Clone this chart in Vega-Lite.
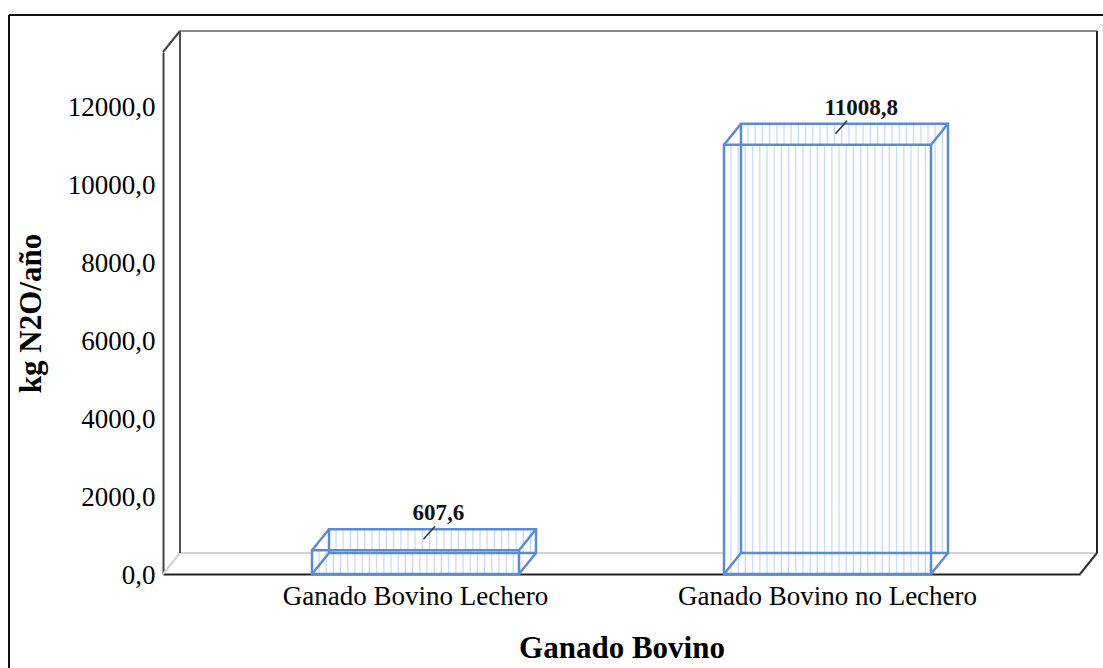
{
  "$schema": "https://vega.github.io/schema/vega-lite/v6.json",
  "width": 917,
  "height": 522,
  "autosize": "none",
  "padding": {"left": 163, "top": 52, "right": 23, "bottom": 94},
  "background": "white",
  "data": {"values": [
    {"tipo": "Ganado Bovino Lechero", "valor": 607.6},
    {"tipo": "Ganado Bovino no Lechero", "valor": 11008.8}
  ]},
  "resolve": {"scale": {"x": "independent", "y": "independent"}},
  "layer": [
    {
      "data": {"values": [{"marco": "muro"}]},
      "layer": [
        {
          "mark": {"type": "rule", "color": "#111111", "strokeWidth": 2, "xOffset": -154, "yOffset": 100, "y2Offset": -37},
          "encoding": {
            "x": {"datum": 0, "type": "quantitative", "scale": {"domain": [0, 1]}, "axis": null},
            "y": {"datum": 0, "type": "quantitative", "scale": {"domain": [0, 1]}, "axis": null},
            "y2": {"datum": 1}
          }
        },
        {
          "mark": {"type": "rule", "color": "#111111", "strokeWidth": 2, "xOffset": -154, "x2Offset": 40, "yOffset": -37},
          "encoding": {
            "x": {"datum": 0, "type": "quantitative", "scale": {"domain": [0, 1]}, "axis": null},
            "x2": {"datum": 1},
            "y": {"datum": 1, "type": "quantitative", "scale": {"domain": [0, 1]}, "axis": null}
          }
        },
        {
          "mark": {"type": "rule", "color": "#d2d2d2", "strokeWidth": 2, "xOffset": 17, "x2Offset": 17, "yOffset": -21},
          "encoding": {
            "x": {"datum": 0, "type": "quantitative", "scale": {"domain": [0, 1]}, "axis": null},
            "x2": {"datum": 1},
            "y": {"datum": 0, "type": "quantitative", "scale": {"domain": [0, 1]}, "axis": null}
          }
        },
        {
          "mark": {"type": "rule", "color": "#d2d2d2", "strokeWidth": 2, "x2Offset": 17, "y2Offset": -21},
          "encoding": {
            "x": {"datum": 0, "type": "quantitative", "scale": {"domain": [0, 1]}, "axis": null},
            "x2": {"datum": 0},
            "y": {"datum": 0, "type": "quantitative", "scale": {"domain": [0, 1]}, "axis": null},
            "y2": {"datum": 0}
          }
        },
        {
          "mark": {"type": "rule", "color": "#8c8c8c", "strokeWidth": 2, "xOffset": 17, "x2Offset": 17, "yOffset": -21},
          "encoding": {
            "x": {"datum": 0, "type": "quantitative", "scale": {"domain": [0, 1]}, "axis": null},
            "x2": {"datum": 1},
            "y": {"datum": 1, "type": "quantitative", "scale": {"domain": [0, 1]}, "axis": null}
          }
        },
        {
          "mark": {"type": "rule", "color": "#505050", "strokeWidth": 2, "xOffset": 17, "yOffset": -21, "y2Offset": -21},
          "encoding": {
            "x": {"datum": 0, "type": "quantitative", "scale": {"domain": [0, 1]}, "axis": null},
            "y": {"datum": 0, "type": "quantitative", "scale": {"domain": [0, 1]}, "axis": null},
            "y2": {"datum": 1}
          }
        },
        {
          "mark": {"type": "rule", "color": "#222222", "strokeWidth": 2, "xOffset": 17, "yOffset": -21, "y2Offset": -21},
          "encoding": {
            "x": {"datum": 1, "type": "quantitative", "scale": {"domain": [0, 1]}, "axis": null},
            "y": {"datum": 0, "type": "quantitative", "scale": {"domain": [0, 1]}, "axis": null},
            "y2": {"datum": 1}
          }
        },
        {
          "mark": {"type": "rule", "color": "#444444", "strokeWidth": 2, "x2Offset": 17, "y2Offset": -21},
          "encoding": {
            "x": {"datum": 0, "type": "quantitative", "scale": {"domain": [0, 1]}, "axis": null},
            "x2": {"datum": 0},
            "y": {"datum": 1, "type": "quantitative", "scale": {"domain": [0, 1]}, "axis": null},
            "y2": {"datum": 1}
          }
        },
        {
          "mark": {"type": "rule", "color": "#333333", "strokeWidth": 2, "x2Offset": 17, "y2Offset": -21},
          "encoding": {
            "x": {"datum": 1, "type": "quantitative", "scale": {"domain": [0, 1]}, "axis": null},
            "x2": {"datum": 1},
            "y": {"datum": 0, "type": "quantitative", "scale": {"domain": [0, 1]}, "axis": null},
            "y2": {"datum": 0}
          }
        }
      ]
    },
    {
      "encoding": {
        "x": {
          "field": "tipo", "type": "nominal", "sort": null,
          "scale": {"paddingInner": 0.4976, "paddingOuter": 0.3617},
          "axis": {
            "orient": "bottom", "title": "Ganado Bovino", "labelAngle": 0, "ticks": false, "labelLimit": 0,
            "domainColor": "#222222", "domainWidth": 2,
            "labelFont": "Liberation Serif", "labelFontSize": 27, "labelColor": "#000000", "labelPadding": 9,
            "titleFont": "Liberation Serif", "titleFontSize": 31, "titleFontWeight": "bold", "titleColor": "#000000", "titlePadding": 24
          }
        },
        "y": {
          "field": "valor", "type": "quantitative",
          "scale": {"domain": [0, 13385], "nice": false},
          "axis": {
            "title": "kg N2O/año", "values": [0, 2000, 4000, 6000, 8000, 10000, 12000], "format": ".1f",
            "grid": false, "ticks": false, "domainColor": "#444444", "domainWidth": 2,
            "labelFont": "Liberation Serif", "labelFontSize": 27, "labelColor": "#000000", "labelPadding": 8, "labelOffset": 1,
            "titleFont": "Liberation Serif", "titleFontSize": 31, "titleFontWeight": "bold", "titleColor": "#000000", "titlePadding": 20
          }
        }
      },
      "layer": [
        {
          "mark": {
            "type": "bar", "strokeWidth": 0, "xOffset": 17, "x2Offset": 17, "yOffset": -21, "y2Offset": -21,
            "fill": {"gradient": "linear", "x1": 0, "y1": 0, "x2": 1, "y2": 0, "stops": [
              {"offset": 0, "color": "#ffffff"},
              {"offset": 0.0275, "color": "#ffffff"}, {"offset": 0.0338, "color": "#c6daf5"}, {"offset": 0.0401, "color": "#ffffff"},
              {"offset": 0.0623, "color": "#ffffff"}, {"offset": 0.0686, "color": "#c6daf5"}, {"offset": 0.0749, "color": "#ffffff"},
              {"offset": 0.0971, "color": "#ffffff"}, {"offset": 0.1034, "color": "#c6daf5"}, {"offset": 0.1097, "color": "#ffffff"},
              {"offset": 0.1319, "color": "#ffffff"}, {"offset": 0.1382, "color": "#c6daf5"}, {"offset": 0.1445, "color": "#ffffff"},
              {"offset": 0.1666, "color": "#ffffff"}, {"offset": 0.1729, "color": "#c6daf5"}, {"offset": 0.1792, "color": "#ffffff"},
              {"offset": 0.2014, "color": "#ffffff"}, {"offset": 0.2077, "color": "#c6daf5"}, {"offset": 0.2140, "color": "#ffffff"},
              {"offset": 0.2362, "color": "#ffffff"}, {"offset": 0.2425, "color": "#c6daf5"}, {"offset": 0.2488, "color": "#ffffff"},
              {"offset": 0.2710, "color": "#ffffff"}, {"offset": 0.2773, "color": "#c6daf5"}, {"offset": 0.2836, "color": "#ffffff"},
              {"offset": 0.3058, "color": "#ffffff"}, {"offset": 0.3121, "color": "#c6daf5"}, {"offset": 0.3184, "color": "#ffffff"},
              {"offset": 0.3406, "color": "#ffffff"}, {"offset": 0.3469, "color": "#c6daf5"}, {"offset": 0.3532, "color": "#ffffff"},
              {"offset": 0.3753, "color": "#ffffff"}, {"offset": 0.3816, "color": "#c6daf5"}, {"offset": 0.3879, "color": "#ffffff"},
              {"offset": 0.4101, "color": "#ffffff"}, {"offset": 0.4164, "color": "#c6daf5"}, {"offset": 0.4227, "color": "#ffffff"},
              {"offset": 0.4449, "color": "#ffffff"}, {"offset": 0.4512, "color": "#c6daf5"}, {"offset": 0.4575, "color": "#ffffff"},
              {"offset": 0.4797, "color": "#ffffff"}, {"offset": 0.4860, "color": "#c6daf5"}, {"offset": 0.4923, "color": "#ffffff"},
              {"offset": 0.5145, "color": "#ffffff"}, {"offset": 0.5208, "color": "#c6daf5"}, {"offset": 0.5271, "color": "#ffffff"},
              {"offset": 0.5493, "color": "#ffffff"}, {"offset": 0.5556, "color": "#c6daf5"}, {"offset": 0.5619, "color": "#ffffff"},
              {"offset": 0.5840, "color": "#ffffff"}, {"offset": 0.5903, "color": "#c6daf5"}, {"offset": 0.5966, "color": "#ffffff"},
              {"offset": 0.6188, "color": "#ffffff"}, {"offset": 0.6251, "color": "#c6daf5"}, {"offset": 0.6314, "color": "#ffffff"},
              {"offset": 0.6536, "color": "#ffffff"}, {"offset": 0.6599, "color": "#c6daf5"}, {"offset": 0.6662, "color": "#ffffff"},
              {"offset": 0.6884, "color": "#ffffff"}, {"offset": 0.6947, "color": "#c6daf5"}, {"offset": 0.7010, "color": "#ffffff"},
              {"offset": 0.7232, "color": "#ffffff"}, {"offset": 0.7295, "color": "#c6daf5"}, {"offset": 0.7358, "color": "#ffffff"},
              {"offset": 0.7580, "color": "#ffffff"}, {"offset": 0.7643, "color": "#c6daf5"}, {"offset": 0.7706, "color": "#ffffff"},
              {"offset": 0.7927, "color": "#ffffff"}, {"offset": 0.7990, "color": "#c6daf5"}, {"offset": 0.8053, "color": "#ffffff"},
              {"offset": 0.8275, "color": "#ffffff"}, {"offset": 0.8338, "color": "#c6daf5"}, {"offset": 0.8401, "color": "#ffffff"},
              {"offset": 0.8623, "color": "#ffffff"}, {"offset": 0.8686, "color": "#c6daf5"}, {"offset": 0.8749, "color": "#ffffff"},
              {"offset": 0.8971, "color": "#ffffff"}, {"offset": 0.9034, "color": "#c6daf5"}, {"offset": 0.9097, "color": "#ffffff"},
              {"offset": 0.9319, "color": "#ffffff"}, {"offset": 0.9382, "color": "#c6daf5"}, {"offset": 0.9445, "color": "#ffffff"},
              {"offset": 0.9666, "color": "#ffffff"}, {"offset": 0.9729, "color": "#c6daf5"}, {"offset": 0.9792, "color": "#ffffff"},
              {"offset": 1, "color": "#ffffff"}
            ]}
          }
        },
        {
          "mark": {
            "type": "bar", "strokeWidth": 0,
            "fill": {"gradient": "linear", "x1": 0, "y1": 0, "x2": 1, "y2": 0, "stops": [
              {"offset": 0, "color": "#ffffff"},
              {"offset": 0.0275, "color": "#ffffff"}, {"offset": 0.0338, "color": "#c6daf5"}, {"offset": 0.0401, "color": "#ffffff"},
              {"offset": 0.0623, "color": "#ffffff"}, {"offset": 0.0686, "color": "#c6daf5"}, {"offset": 0.0749, "color": "#ffffff"},
              {"offset": 0.0971, "color": "#ffffff"}, {"offset": 0.1034, "color": "#c6daf5"}, {"offset": 0.1097, "color": "#ffffff"},
              {"offset": 0.1319, "color": "#ffffff"}, {"offset": 0.1382, "color": "#c6daf5"}, {"offset": 0.1445, "color": "#ffffff"},
              {"offset": 0.1666, "color": "#ffffff"}, {"offset": 0.1729, "color": "#c6daf5"}, {"offset": 0.1792, "color": "#ffffff"},
              {"offset": 0.2014, "color": "#ffffff"}, {"offset": 0.2077, "color": "#c6daf5"}, {"offset": 0.2140, "color": "#ffffff"},
              {"offset": 0.2362, "color": "#ffffff"}, {"offset": 0.2425, "color": "#c6daf5"}, {"offset": 0.2488, "color": "#ffffff"},
              {"offset": 0.2710, "color": "#ffffff"}, {"offset": 0.2773, "color": "#c6daf5"}, {"offset": 0.2836, "color": "#ffffff"},
              {"offset": 0.3058, "color": "#ffffff"}, {"offset": 0.3121, "color": "#c6daf5"}, {"offset": 0.3184, "color": "#ffffff"},
              {"offset": 0.3406, "color": "#ffffff"}, {"offset": 0.3469, "color": "#c6daf5"}, {"offset": 0.3532, "color": "#ffffff"},
              {"offset": 0.3753, "color": "#ffffff"}, {"offset": 0.3816, "color": "#c6daf5"}, {"offset": 0.3879, "color": "#ffffff"},
              {"offset": 0.4101, "color": "#ffffff"}, {"offset": 0.4164, "color": "#c6daf5"}, {"offset": 0.4227, "color": "#ffffff"},
              {"offset": 0.4449, "color": "#ffffff"}, {"offset": 0.4512, "color": "#c6daf5"}, {"offset": 0.4575, "color": "#ffffff"},
              {"offset": 0.4797, "color": "#ffffff"}, {"offset": 0.4860, "color": "#c6daf5"}, {"offset": 0.4923, "color": "#ffffff"},
              {"offset": 0.5145, "color": "#ffffff"}, {"offset": 0.5208, "color": "#c6daf5"}, {"offset": 0.5271, "color": "#ffffff"},
              {"offset": 0.5493, "color": "#ffffff"}, {"offset": 0.5556, "color": "#c6daf5"}, {"offset": 0.5619, "color": "#ffffff"},
              {"offset": 0.5840, "color": "#ffffff"}, {"offset": 0.5903, "color": "#c6daf5"}, {"offset": 0.5966, "color": "#ffffff"},
              {"offset": 0.6188, "color": "#ffffff"}, {"offset": 0.6251, "color": "#c6daf5"}, {"offset": 0.6314, "color": "#ffffff"},
              {"offset": 0.6536, "color": "#ffffff"}, {"offset": 0.6599, "color": "#c6daf5"}, {"offset": 0.6662, "color": "#ffffff"},
              {"offset": 0.6884, "color": "#ffffff"}, {"offset": 0.6947, "color": "#c6daf5"}, {"offset": 0.7010, "color": "#ffffff"},
              {"offset": 0.7232, "color": "#ffffff"}, {"offset": 0.7295, "color": "#c6daf5"}, {"offset": 0.7358, "color": "#ffffff"},
              {"offset": 0.7580, "color": "#ffffff"}, {"offset": 0.7643, "color": "#c6daf5"}, {"offset": 0.7706, "color": "#ffffff"},
              {"offset": 0.7927, "color": "#ffffff"}, {"offset": 0.7990, "color": "#c6daf5"}, {"offset": 0.8053, "color": "#ffffff"},
              {"offset": 0.8275, "color": "#ffffff"}, {"offset": 0.8338, "color": "#c6daf5"}, {"offset": 0.8401, "color": "#ffffff"},
              {"offset": 0.8623, "color": "#ffffff"}, {"offset": 0.8686, "color": "#c6daf5"}, {"offset": 0.8749, "color": "#ffffff"},
              {"offset": 0.8971, "color": "#ffffff"}, {"offset": 0.9034, "color": "#c6daf5"}, {"offset": 0.9097, "color": "#ffffff"},
              {"offset": 0.9319, "color": "#ffffff"}, {"offset": 0.9382, "color": "#c6daf5"}, {"offset": 0.9445, "color": "#ffffff"},
              {"offset": 0.9666, "color": "#ffffff"}, {"offset": 0.9729, "color": "#c6daf5"}, {"offset": 0.9792, "color": "#ffffff"},
              {"offset": 1, "color": "#ffffff"}
            ]}
          }
        },
        {
          "mark": {"type": "bar", "filled": false, "stroke": "#5b8bd2", "strokeWidth": 2.5, "xOffset": 17, "x2Offset": 17, "yOffset": -21, "y2Offset": -21}
        },
        {
          "mark": {"type": "bar", "filled": false, "stroke": "#5b8bd2", "strokeWidth": 2.5}
        },
        {
          "mark": {"type": "rule", "color": "#5b8bd2", "strokeWidth": 2.5, "x2Offset": 17, "y2Offset": -21},
          "encoding": {
            "x": {"field": "tipo", "type": "nominal", "bandPosition": 0},
            "x2": {"field": "tipo", "bandPosition": 0},
            "y2": {"field": "valor"}
          }
        },
        {
          "mark": {"type": "rule", "color": "#5b8bd2", "strokeWidth": 2.5, "x2Offset": 17, "y2Offset": -21},
          "encoding": {
            "x": {"field": "tipo", "type": "nominal", "bandPosition": 1},
            "x2": {"field": "tipo", "bandPosition": 1},
            "y2": {"field": "valor"}
          }
        },
        {
          "mark": {"type": "rule", "color": "#5b8bd2", "strokeWidth": 2.5, "x2Offset": 17, "y2Offset": -21},
          "encoding": {
            "x": {"field": "tipo", "type": "nominal", "bandPosition": 0},
            "x2": {"field": "tipo", "bandPosition": 0},
            "y": {"datum": 0, "type": "quantitative",
              "axis": {
                "title": "kg N2O/año", "values": [0, 2000, 4000, 6000, 8000, 10000, 12000], "format": ".1f",
                "grid": false, "ticks": false, "domainColor": "#444444", "domainWidth": 2,
                "labelFont": "Liberation Serif", "labelFontSize": 27, "labelColor": "#000000", "labelPadding": 8, "labelOffset": 1,
                "titleFont": "Liberation Serif", "titleFontSize": 31, "titleFontWeight": "bold", "titleColor": "#000000", "titlePadding": 20
              }},
            "y2": {"datum": 0}
          }
        },
        {
          "mark": {"type": "rule", "color": "#5b8bd2", "strokeWidth": 2.5, "x2Offset": 17, "y2Offset": -21},
          "encoding": {
            "x": {"field": "tipo", "type": "nominal", "bandPosition": 1},
            "x2": {"field": "tipo", "bandPosition": 1},
            "y": {"datum": 0, "type": "quantitative",
              "axis": {
                "title": "kg N2O/año", "values": [0, 2000, 4000, 6000, 8000, 10000, 12000], "format": ".1f",
                "grid": false, "ticks": false, "domainColor": "#444444", "domainWidth": 2,
                "labelFont": "Liberation Serif", "labelFontSize": 27, "labelColor": "#000000", "labelPadding": 8, "labelOffset": 1,
                "titleFont": "Liberation Serif", "titleFontSize": 31, "titleFontWeight": "bold", "titleColor": "#000000", "titlePadding": 20
              }},
            "y2": {"datum": 0}
          }
        },
        {
          "mark": {"type": "rule", "color": "#333333", "strokeWidth": 1.5, "xOffset": 8, "x2Offset": 19.5, "yOffset": -11, "y2Offset": -24},
          "encoding": {
            "x2": {"field": "tipo"},
            "y2": {"field": "valor"}
          }
        },
        {
          "mark": {"type": "text", "align": "left", "baseline": "middle", "dx": -3, "dy": -37, "font": "Liberation Serif", "fontSize": 23, "fontWeight": "bold", "color": "#111111"},
          "encoding": {
            "text": {"field": "valor", "type": "quantitative", "format": ".1f"}
          }
        }
      ]
    }
  ],
  "config": {
    "view": {"stroke": null},
    "font": "Liberation Serif",
    "locale": {"number": {"decimal": ",", "thousands": ".", "grouping": [3], "currency": ["", ""]}}
  }
}
